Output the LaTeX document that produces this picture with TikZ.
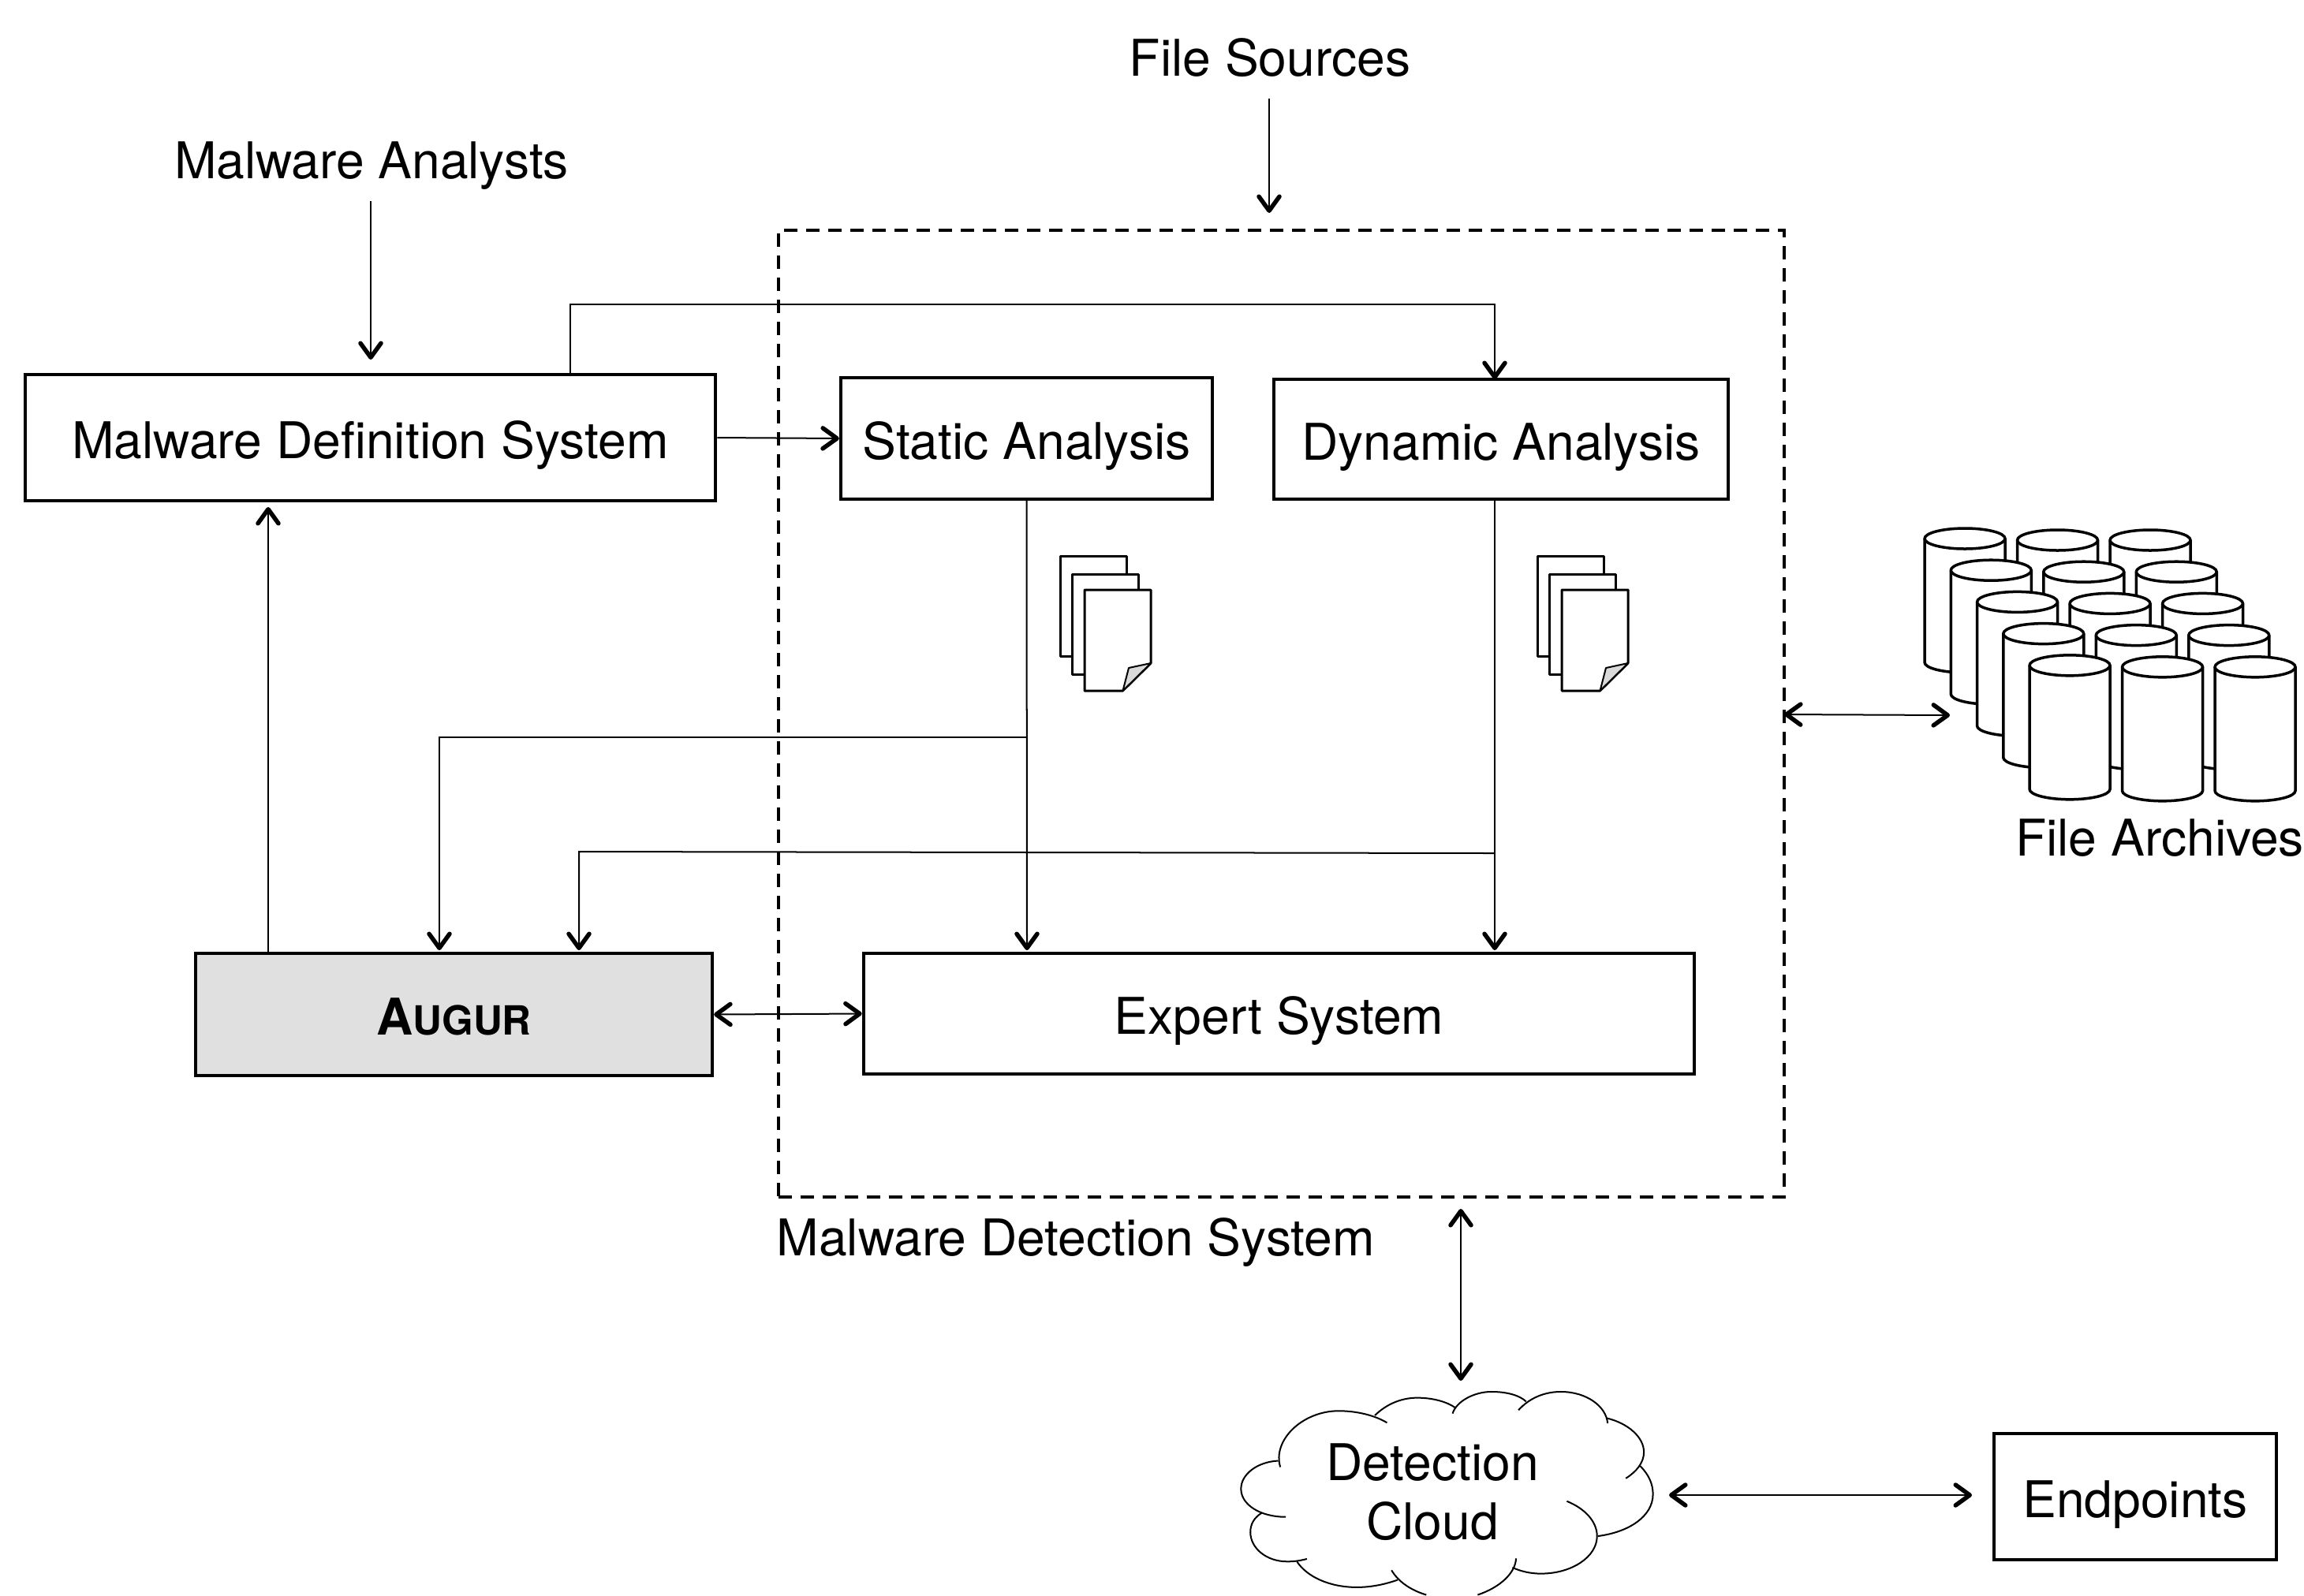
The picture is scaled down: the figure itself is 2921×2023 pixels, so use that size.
\documentclass[tikz,border=0pt]{standalone}
\usepackage{fontspec}
\setmainfont{TeX Gyre Heros}
\usepackage{xcolor}
\usetikzlibrary{arrows.meta, positioning}
\definecolor{augurgray}{RGB}{224,224,224}
\definecolor{foldgray}{RGB}{217,217,217}

\begin{document}
\begin{tikzpicture}[
    x=0.01cm, y=-0.01cm,
    barb/.tip={Straight Barb[length=0.18cm, width=0.26cm, line width=0.055cm, round]},
    box/.style={rectangle, draw=black, line width=0.04cm, inner sep=0pt, text height=0.52cm, text depth=0pt, font=\fontsize{18.25}{21.3}\selectfont},
    label/.style={inner sep=0pt, font=\fontsize{18.25}{21.3}\selectfont},
    arrow/.style={-barb, line width=0.02cm},
    both/.style={barb-barb, line width=0.02cm},
    sheet/.style={draw=black, fill=white, line width=0.03cm, line join=round},
    disk/.style={draw=black, fill=white, line width=0.035cm},
    puff/.style={line width=0.02cm}
]
    \useasboundingbox (0,0) rectangle (2921,2023);

    % Malware detection system frame
    \node[draw=black, line width=0.04cm, dash pattern=on 0.17cm off 0.11cm, minimum width=12.75cm, minimum height=12.26cm] (detect) at (1624.5,905) {};
    \node[label, anchor=west] (detectlabel) at (984,1575) {Malware Detection System};

    % Boxes
    \node[box, minimum width=8.75cm, minimum height=1.6cm] (mds) at (469.5,555) {Malware Definition System};
    \node[box, minimum width=4.71cm, minimum height=1.54cm] (static) at (1301.5,556) {Static Analysis};
    \node[box, minimum width=5.76cm, minimum height=1.52cm] (dynamic) at (1903,557) {Dynamic Analysis};
    \node[box, fill=augurgray, minimum width=6.55cm, minimum height=1.55cm] (augur) at (575.5,1286.5) {\textbf{A\fontsize{14.5}{21.3}\selectfont UGUR}};
    \node[box, minimum width=10.53cm, minimum height=1.53cm] (expert) at (1621.5,1285.5) {Expert System};
    \node[box, minimum width=3.58cm, minimum height=1.6cm] (endpoints) at (2707,1898) {Endpoints};

    % Outside labels
    \node[label] (sources) at (1610,73) {File Sources};
    \node[label] (analysts) at (471,210) {Malware Analysts};
    \node[label] (archives) at (2738,1063) {File Archives};

    % File archives
    \foreach \row in {0,...,4} {
        \foreach \col in {0,...,2} {
            \pgfmathsetmacro{\dx}{2440+33.25*\row+117.5*\col}
            \pgfmathsetmacro{\dy}{683+40.2*\row+(\col>0 ? 2 : 0)}
            \path[disk] (\dx,\dy) -- ++(0,157) arc[start angle=180, end angle=360, x radius=51, y radius=-13] -- ++(0,-157) arc[start angle=0, end angle=180, x radius=51, y radius=-13] -- cycle;
            \path[disk] (\dx,\dy) arc[start angle=180, end angle=360, x radius=51, y radius=-13];
        }
    }

    % Report pages
    \foreach \shiftx in {0,605} {
        \begin{scope}[xshift=\shiftx*0.01cm]
            \path[sheet] (1344,705) rectangle (1428,832);
            \path[sheet] (1359,728) rectangle (1443,855);
            \path[sheet] (1375,748) -- (1459,748) -- (1459,841) -- (1423.5,876) -- (1375,876) -- cycle;
            \path[sheet, fill=foldgray, line width=0.02cm] (1459,841) -- (1431,847) -- (1423.5,876) -- cycle;
        \end{scope}
    }

    % Detection cloud
    \begin{scope}[shift={(1540,1740)}, x=0.003827cm, y=-0.00333cm]
        \fill[white] (215,340) -- (530,165) -- (1300,195) -- (1440,470) -- (1268,625) -- (985,745) -- (870,849) -- (700,849) -- (272,722) -- (118,610) -- (88,440) -- cycle;
        \draw[puff] (217,362) .. controls (190,260) and (290,148) .. (410,148) .. controls (470,148) and (530,165) .. (570,193);
        \draw[puff] (530,165) .. controls (570,120) and (620,98) .. (670,98) .. controls (725,98) and (770,115) .. (795,135);
        \draw[puff] (787,158) .. controls (800,110) and (860,75) .. (915,75) .. controls (970,75) and (1010,90) .. (1030,112);
        \draw[puff] (1005,145) .. controls (1040,100) and (1090,75) .. (1145,75) .. controls (1230,75) and (1295,130) .. (1300,195);
        \draw[puff] (1295,175) .. controls (1370,195) and (1420,250) .. (1420,305) .. controls (1420,345) and (1395,380) .. (1360,405);
        \draw[puff] (1408,358) .. controls (1435,390) and (1450,425) .. (1450,465) .. controls (1450,550) and (1370,610) .. (1268,625);
        \draw[puff] (1165,492) .. controls (1225,520) and (1265,570) .. (1265,625) .. controls (1265,705) and (1180,768) .. (1080,768) .. controls (1045,768) and (1015,760) .. (985,745);
        \draw[puff] (997,710) .. controls (995,765) and (945,820) .. (870,849);
        \draw[puff] (585,755) .. controls (605,795) and (645,830) .. (700,849);
        \draw[puff] (605,792) .. controls (565,808) and (520,820) .. (470,820) .. controls (380,820) and (305,780) .. (272,722);
        \draw[puff] (305,712) .. controls (285,718) and (265,722) .. (240,722) .. controls (170,722) and (118,670) .. (118,610) .. controls (118,580) and (130,555) .. (155,537);
        \draw[puff] (235,552) .. controls (150,552) and (87,505) .. (87,445) .. controls (87,390) and (140,342) .. (210,338);
    \end{scope}
    \node[label, align=center] (cloud) at (1816,1892) {Detection\\Cloud};

    % Free ends of the connectors
    \coordinate (sourcesin) at (1609,270);
    \coordinate (sourcesout) at (1609,125);
    \coordinate (analystsin) at (470,456);
    \coordinate (analystsout) at (470,255);
    \coordinate (mdsup) at (723,475);
    \coordinate (dynamicin) at (1895,481);
    \coordinate (dynamicout) at (1895,633);
    \coordinate (mdstop) at (1895,386);
    \coordinate (feedbackin) at (340,643);
    \coordinate (feedbackout) at (340,1209);
    \coordinate (staticturn) at (1302,935);
    \coordinate (augurleft) at (557,1205);
    \coordinate (dynamicturn) at (1895,1082);
    \coordinate (augurturn) at (734,1080);
    \coordinate (augurright) at (734,1205);
    \coordinate (expertleft) at (1302,1205);
    \coordinate (expertright) at (1895,1205);
    \coordinate (archivesin) at (2472,907);
    \coordinate (frameright) at (2262,906);
    \coordinate (framelow) at (1852,1533);
    \coordinate (cloudup) at (1852,1751);
    \coordinate (cloudright) at (2116,1896);
    \coordinate (endpointsin) at (2500,1896);

    % Connectors
    \draw[arrow] (sourcesout) -- (sourcesin);
    \draw[arrow] (analystsout) -- (analystsin);
    \draw[arrow] (mdsup) |- (mdstop) -- (dynamicin);
    \draw[arrow] (mds.east) -- (static.west);
    \draw[arrow] (feedbackout) -- (feedbackin);
    \draw[arrow] (static.south) -- (expertleft);
    \draw[arrow] (staticturn) -| (augurleft);
    \draw[arrow] (dynamicout) -- (expertright);
    \draw[arrow] (dynamicturn) -- (augurturn) -- (augurright);
    \draw[both] (augur.east) -- (expert.west);
    \draw[both] (frameright) -- (archivesin);
    \draw[both] (framelow) -- (cloudup);
    \draw[both] (cloudright) -- (endpointsin);
\end{tikzpicture}
\end{document}
